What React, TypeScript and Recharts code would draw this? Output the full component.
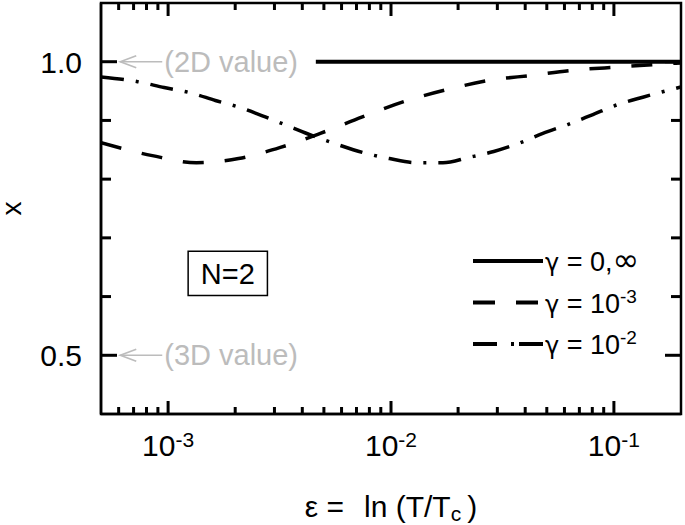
import React from 'react';
import {
  LineChart,
  Line,
  XAxis,
  YAxis,
  ReferenceDot,
  ReferenceArea,
  Legend,
} from 'recharts';

const FONT = '"Liberation Sans", Arial, Helvetica, sans-serif';
const SYMBOL_FONT = '"DejaVu Sans", "Liberation Sans", sans-serif';
const GREY = '#bcbcbc';

const X_DOMAIN: [number, number] = [5e-4, 0.2];
const Y_DOMAIN: [number, number] = [0.4, 1.1];

// log-scale ticks on the epsilon axis
const X_MAJOR = [1e-3, 1e-2, 1e-1];
const X_MAJOR_EXP = ['-3', '-2', '-1'];
const X_MINOR = [
  6e-4, 7e-4, 8e-4, 9e-4,
  2e-3, 3e-3, 4e-3, 5e-3, 6e-3, 7e-3, 8e-3, 9e-3,
  2e-2, 3e-2, 4e-2, 5e-2, 6e-2, 7e-2, 8e-2, 9e-2,
];
const Y_MAJOR = [0.5, 1.0];
const Y_MINOR = [0.6, 0.7, 0.8, 0.9];

// gamma = 0, infinity
const solidX = [4.6e-3, 0.2];
const solidY = [1.0, 1.0];

// gamma = 1e-3
const dashedX = [5e-4, 8.5e-4, 1.34e-3, 2.07e-3, 3.19e-3, 4.82e-3, 7.44e-3, 1.14e-2, 1.76e-2, 2.74e-2, 4.32e-2, 6.75e-2, 0.105, 0.164, 0.2];
const dashedY = [0.862, 0.84, 0.828, 0.835, 0.854, 0.878, 0.906, 0.932, 0.952, 0.968, 0.977, 0.986, 0.991, 0.996, 0.998];

// gamma = 1e-2
const dashDotX = [5e-4, 7.3e-4, 9.6e-4, 1.26e-3, 1.63e-3, 2.1e-3, 2.73e-3, 3.43e-3, 4.44e-3, 5.75e-3, 7.52e-3, 9.84e-3, 1.3e-2, 1.71e-2, 2.23e-2, 2.89e-2, 3.74e-2, 4.8e-2, 6.21e-2, 8.05e-2, 0.104, 0.136, 0.2];
const dashDotY = [0.974, 0.966, 0.956, 0.947, 0.934, 0.922, 0.906, 0.891, 0.874, 0.859, 0.845, 0.835, 0.828, 0.828, 0.837, 0.847, 0.861, 0.878, 0.893, 0.91, 0.927, 0.94, 0.957];

const LEGEND_VALUE = ['0,', '10', '10'];
const LEGEND_INF = ['\u221e', '', ''];
const LEGEND_SUP = ['', '-3', '-2'];
const LEGEND_DASH = ['', '22 21', '24 14 3 5 24'];

const toPoints = (xs: number[], ys: number[]) => xs.map((x, i) => ({ x, y: ys[i] }));

const solidData = toPoints(solidX, solidY);
const dashedData = toPoints(dashedX, dashedY);
const dashDotData = toPoints(dashDotX, dashDotY);

const X_TICKS = [...X_MAJOR, ...X_MINOR];
const Y_TICKS = [...Y_MAJOR, ...Y_MINOR];

const near = (list: number[], v: number) => list.findIndex((m) => Math.abs(m - v) / m < 1e-6);
const xLen = (v: number) => (near(X_MAJOR, v) >= 0 ? 13 : 7);
const yLen = (v: number) => (near(Y_MAJOR, v) >= 0 ? 16 : 10);

function BottomLabel(props: any) {
  const { x, y, payload } = props;
  const idx = near(X_MAJOR, payload.value);
  if (idx < 0) return <g />;
  return (
    <text x={x} y={y + 42} textAnchor="middle" fontSize={30} fill="#000">
      10
      <tspan dy={-9} fontSize={21}>
        {X_MAJOR_EXP[idx]}
      </tspan>
    </text>
  );
}

function LeftLabel(props: any) {
  const { x, y, payload } = props;
  if (near(Y_MAJOR, payload.value) < 0) return <g />;
  return (
    <text x={x - 19} y={y + 11} textAnchor="end" fontSize={30} fill="#000">
      {payload.value.toFixed(1)}
    </text>
  );
}

// short inward tick mark anchored on a frame edge
function TickMark(props: any) {
  const { cx, cy, dx, dy } = props;
  return <line x1={cx} y1={cy} x2={cx + dx} y2={cy + dy} stroke="#000" strokeWidth={3} />;
}

function XTitle(props: any) {
  const { x, y, width } = props.viewBox;
  return (
    <text x={x + width / 2} y={y + 103} textAnchor="middle" fontSize={30} fill="#000">
      {'\u03b5 ='}
      <tspan dx={20}>ln (T/T</tspan>
      <tspan dy={4} fontSize={21}>c</tspan>
      <tspan dx={6} dy={-4}>)</tspan>
    </text>
  );
}

function YTitle(props: any) {
  const { y, height } = props.viewBox;
  const cx = 21;
  const cy = y + height / 2;
  return (
    <text x={cx} y={cy} transform={`rotate(-90, ${cx}, ${cy})`} textAnchor="middle" fontSize={28} fill="#000">
      x
    </text>
  );
}

// grey arrow + note pointing at the axis value
function ValueNote(props: any) {
  const { cx, cy, text } = props;
  return (
    <g>
      <line x1={cx} x2={cx + 42} y1={cy} y2={cy} stroke={GREY} strokeWidth={1.6} />
      <polyline
        points={`${cx + 16},${cy - 6} ${cx},${cy} ${cx + 16},${cy + 6}`}
        fill="none"
        stroke={GREY}
        strokeWidth={1.6}
      />
      <text x={cx + 44} y={cy + 10} fontSize={29} fill={GREY}>
        {text}
      </text>
    </g>
  );
}

function LegendBox() {
  return (
    <svg width={200} height={125} style={{ overflow: 'visible', fontFamily: FONT }}>
      {LEGEND_VALUE.map((value, i) => {
        const cy = 18 + i * 41.5;
        return (
          <g key={i}>
            <line
              x1={3}
              x2={73}
              y1={cy}
              y2={cy}
              stroke="#000"
              strokeWidth={4}
              strokeDasharray={LEGEND_DASH[i] || undefined}
            />
            <text x={75} y={cy + 10} fontSize={27} fill="#000">
              <tspan fontFamily={SYMBOL_FONT} fontSize={24}>{'\u03b3'}</tspan>
              {' = '}
              {value}
              {LEGEND_INF[i] && (
                <tspan fontFamily={SYMBOL_FONT} fontSize={32}>
                  {LEGEND_INF[i]}
                </tspan>
              )}
              {LEGEND_SUP[i] && (
                <tspan dy={-10} fontSize={19}>
                  {LEGEND_SUP[i]}
                </tspan>
              )}
            </text>
          </g>
        );
      })}
    </svg>
  );
}

export default function App() {
  return (
    <div style={{ position: 'absolute', left: 0, top: 0, fontFamily: FONT, background: '#fff' }}>
      <LineChart width={685} height={525} margin={{ top: 3, right: 4, left: 0, bottom: 51 }}>
        <XAxis
          dataKey="x"
          type="number"
          scale="log"
          domain={X_DOMAIN}
          allowDataOverflow
          ticks={X_MAJOR}
          interval={0}
          height={60}
          tickSize={0}
          tickMargin={0}
          tickLine={false}
          tick={<BottomLabel />}
          axisLine={{ stroke: '#000', strokeWidth: 2.5 }}
          label={XTitle}
        />
        <YAxis
          type="number"
          domain={Y_DOMAIN}
          allowDataOverflow
          ticks={Y_MAJOR}
          interval={0}
          width={101}
          tickSize={0}
          tickMargin={0}
          tickLine={false}
          tick={<LeftLabel />}
          axisLine={{ stroke: '#000', strokeWidth: 2.5 }}
          label={YTitle}
        />
        <ReferenceArea
          x1={X_DOMAIN[0]}
          x2={X_DOMAIN[1]}
          y1={Y_DOMAIN[0]}
          y2={Y_DOMAIN[1]}
          fill="none"
          stroke="#000"
          strokeWidth={2.5}
        />
        <ReferenceArea
          x1={1.23e-3}
          x2={2.79e-3}
          y1={0.602}
          y2={0.677}
          fill="#fff"
          fillOpacity={1}
          stroke="#000"
          strokeWidth={1.5}
          label={{ value: 'N=2', position: 'center', fontSize: 29, fill: '#000' }}
        />
        <ReferenceDot x={6.1e-4} y={1.0} r={0} shape={(p: any) => <ValueNote {...p} text="(2D value)" />} />
        <ReferenceDot x={6.1e-4} y={0.5} r={0} shape={(p: any) => <ValueNote {...p} text="(3D value)" />} />
        <Line
          data={solidData}
          dataKey="y"
          name="gamma0"
          type="linear"
          stroke="#000"
          strokeWidth={4}
          dot={false}
          activeDot={false}
          isAnimationActive={false}
        />
        <Line
          data={dashedData}
          dataKey="y"
          name="gamma1e-3"
          type="monotone"
          stroke="#000"
          strokeWidth={3.5}
          strokeDasharray="21 21"
          dot={false}
          activeDot={false}
          isAnimationActive={false}
        />
        <Line
          data={dashDotData}
          dataKey="y"
          name="gamma1e-2"
          type="monotone"
          stroke="#000"
          strokeWidth={3.5}
          strokeDasharray="23 12 3 12"
          dot={false}
          activeDot={false}
          isAnimationActive={false}
        />
        {X_TICKS.map((v) => (
          <ReferenceDot
            key={`xb${v}`}
            x={v}
            y={Y_DOMAIN[0]}
            r={0}
            ifOverflow="visible"
            shape={(p: any) => <TickMark {...p} dx={0} dy={-xLen(v)} />}
          />
        ))}
        {X_TICKS.map((v) => (
          <ReferenceDot
            key={`xt${v}`}
            x={v}
            y={Y_DOMAIN[1]}
            r={0}
            ifOverflow="visible"
            shape={(p: any) => <TickMark {...p} dx={0} dy={xLen(v)} />}
          />
        ))}
        {Y_TICKS.map((v) => (
          <ReferenceDot
            key={`yl${v}`}
            x={X_DOMAIN[0]}
            y={v}
            r={0}
            ifOverflow="visible"
            shape={(p: any) => <TickMark {...p} dx={yLen(v)} dy={0} />}
          />
        ))}
        {Y_TICKS.map((v) => (
          <ReferenceDot
            key={`yr${v}`}
            x={X_DOMAIN[1]}
            y={v}
            r={0}
            ifOverflow="visible"
            shape={(p: any) => <TickMark {...p} dx={-yLen(v)} dy={0} />}
          />
        ))}
        <Legend
          layout="vertical"
          align="center"
          verticalAlign="middle"
          content={() => <LegendBox />}
          wrapperStyle={{ left: 470, top: 243, width: 200, height: 125 }}
        />
      </LineChart>
    </div>
  );
}
